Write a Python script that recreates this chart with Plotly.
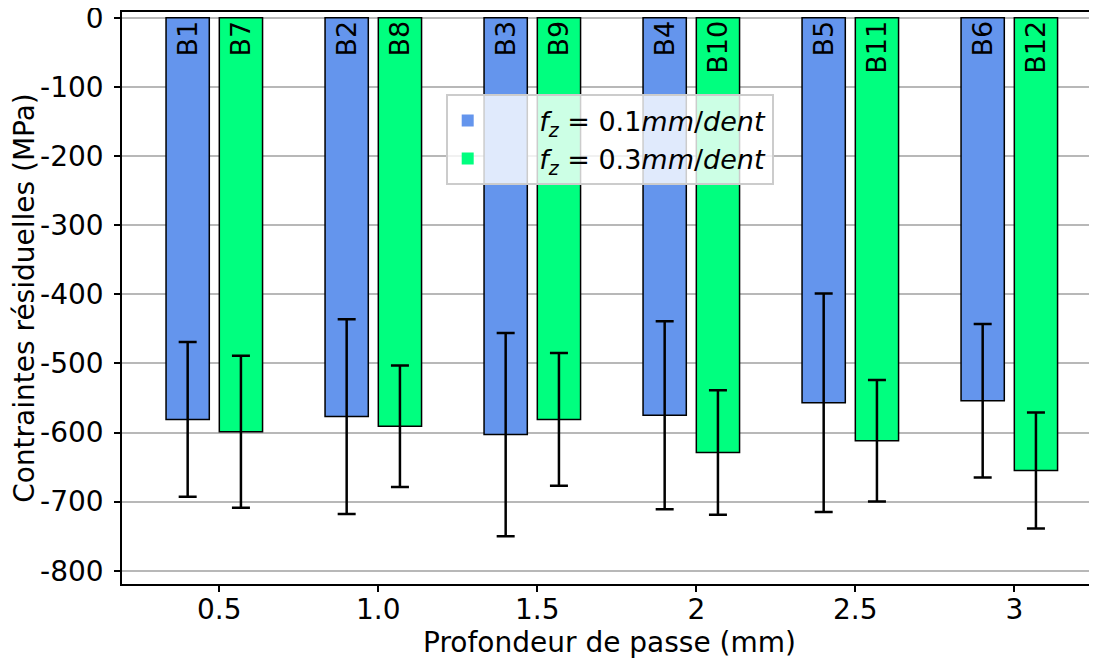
import plotly.graph_objects as go

categories = ["0.5", "1.0", "1.5", "2", "2.5", "3"]
labels_01 = ["B1", "B2", "B3", "B4", "B5", "B6"]
labels_03 = ["B7", "B8", "B9", "B10", "B11", "B12"]
values_01 = [-581, -577, -603, -575, -557, -554]
errors_01 = [112, 141, 147, 136, 158, 111]
values_03 = [-599, -591, -581, -629, -612, -655]
errors_03 = [110, 88, 96, 90, 88, 84]
y_ticks = [0, -100, -200, -300, -400, -500, -600, -700, -800]
y_ticklabels = ["0", "-100", "-200", "-300", "-400", "-500", "-600", "-700", "-800"]

name_01 = "<i>f</i><sub><i>z</i></sub> = 0.1<i>mm</i>/<i>dent</i>"
name_03 = "<i>f</i><sub><i>z</i></sub> = 0.3<i>mm</i>/<i>dent</i>"

BLUE = "#6495ED"
GREEN = "#00FF7F"
FONT = "DejaVu Sans"
BAR_W = 0.272
FS = 28

fig = go.Figure()

for vals, errs, labs, color, off in [
    (values_01, errors_01, labels_01, BLUE, -0.335),
    (values_03, errors_03, labels_03, GREEN, 0.0),
]:
    fig.add_trace(go.Bar(
        x=categories, y=vals, width=BAR_W, offset=off,
        marker=dict(color=color, line=dict(color="black", width=1.5)),
        error_y=dict(type="data", array=errs, visible=True, color="black",
                     thickness=2.5, width=9),
        text=labs, textposition="inside", insidetextanchor="start",
        textangle=-90, constraintext="none",
        textfont=dict(family=FONT, size=27, color="black"),
        showlegend=False,
    ))

pad = "&nbsp;" * 6
for nm, color in [(name_01, BLUE), (name_03, GREEN)]:
    fig.add_trace(go.Scatter(
        x=[None], y=[None], mode="markers", name=pad + nm,
        marker=dict(symbol="square", size=12, color=color),
    ))

# the page body has an 8px default margin, so the figure is sized/offset to compensate
fig.update_layout(
    width=1089, height=654,
    margin=dict(l=114, r=0, t=4, b=78),
    paper_bgcolor="white", plot_bgcolor="white",
    barmode="overlay",
    font=dict(family=FONT, size=FS, color="black"),
    legend=dict(
        x=0.332, y=0.856, xanchor="left", yanchor="top",
        bgcolor="rgba(255,255,255,0.8)", bordercolor="#cccccc", borderwidth=2,
        font=dict(family=FONT, size=27, color="black"),
        itemsizing="constant", tracegroupgap=0,
    ),
)

fig.update_xaxes(
    range=[-0.612, 5.52], automargin=False,
    showline=True, linecolor="black", linewidth=1.5, mirror=True,
    ticks="outside", ticklen=6, tickwidth=1.5, tickcolor="black",
    ticklabelstandoff=-6,
    showgrid=False, ticklabeloverflow="allow",
    tickfont=dict(family=FONT, size=FS),
    title=dict(text="Profondeur de passe (mm)", standoff=6,
               font=dict(family=FONT, size=FS)),
)
fig.update_yaxes(
    range=[-819.2, 8.5], automargin=False,
    tickvals=y_ticks, ticktext=y_ticklabels,
    showline=True, linecolor="black", linewidth=1.5, mirror=False,
    ticks="outside", ticklen=6, tickwidth=1.5, tickcolor="black",
    ticklabelstandoff=5, ticklabeloverflow="allow",
    showgrid=True, gridcolor="#b8b8b8", gridwidth=1.5,
    zeroline=False,
    tickfont=dict(family=FONT, size=FS),
    title=dict(text="Contraintes résiduelles (MPa)", standoff=8,
               font=dict(family=FONT, size=FS)),
)

fig.write_html("out.html")
